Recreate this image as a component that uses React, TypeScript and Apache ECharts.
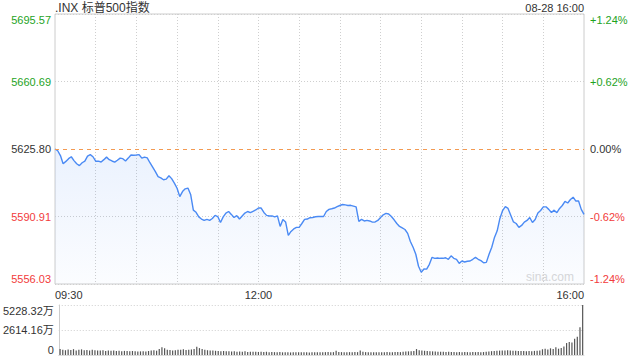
import React, { useEffect, useRef } from "react";
import * as echarts from "echarts";

const BASE = 5625.8;
const RANGE = 69.77;

const titleText = ".INX 标普500指数";
const dateText = "08-28 16:00";
const watermarkText = "sina.com";

const leftTickLabels = ["5556.03", "5590.91", "5625.80", "5660.69", "5695.57"];
const rightTickLabels = ["-1.24%", "-0.62%", "0.00%", "+0.62%", "+1.24%"];
const tickStyles = ["r", "r", "k", "g", "g"];
const volTickLabels = ["0", "2614.16万", "5228.32万"];
const shownTimeIdx = [0, 75, 195];

const prices = [
  5625.80, 5624.9, 5622.4, 5618.2, 5619.4, 5620.8, 5621.8, 5619.8, 5618.2, 5617.2,
  5618.7, 5619.5, 5622.1, 5622.9, 5621.8, 5619.5, 5619.5, 5619.1, 5620.3, 5621.6,
  5620.3, 5619.6, 5619.0, 5620.0, 5621.1, 5620.8, 5619.6, 5621.1, 5622.7, 5622.6,
  5622.7, 5622.9, 5621.1, 5621.6, 5621.2, 5618.7, 5616.4, 5614.1, 5611.5, 5610.9,
  5609.9, 5610.2, 5612.0, 5610.5, 5608.2, 5605.5, 5601.2, 5603.8, 5605.2, 5605.6,
  5602.3, 5594.2, 5593.1, 5590.7, 5589.6, 5588.9, 5589.4, 5588.9, 5589.9, 5591.5,
  5590.9, 5587.8, 5590.7, 5592.7, 5593.5, 5592.0, 5590.4, 5591.4, 5589.6, 5591.2,
  5592.7, 5593.5, 5592.9, 5593.6, 5594.3, 5595.3, 5595.3, 5593.0, 5591.5, 5591.2,
  5591.2, 5590.7, 5591.2, 5585.8, 5589.4, 5588.1, 5581.2, 5583.2, 5584.5, 5585.3,
  5585.3, 5587.3, 5589.4, 5589.6, 5590.3, 5590.4, 5590.8, 5590.9, 5590.9, 5590.9,
  5593.5, 5594.6, 5594.9, 5595.3, 5596.0, 5596.6, 5597.1, 5596.9, 5596.6, 5596.7,
  5596.3, 5595.9, 5588.4, 5589.4, 5588.6, 5588.9, 5588.6, 5588.0, 5588.1, 5588.9,
  5590.4, 5591.8, 5592.5, 5592.2, 5590.9, 5589.2, 5587.3, 5585.8, 5585.0, 5584.2,
  5582.2, 5578.0, 5575.0, 5571.4, 5565.2, 5562.1, 5563.8, 5563.7, 5566.2, 5569.8,
  5569.3, 5569.5, 5569.3, 5569.3, 5569.6, 5568.8, 5570.6, 5569.3, 5568.8, 5566.7,
  5567.9, 5567.4, 5567.8, 5567.9, 5568.8, 5569.8, 5568.8, 5568.1, 5567.0, 5567.2,
  5571.4, 5575.0, 5580.1, 5583.5, 5589.9, 5594.0, 5596.0, 5595.1, 5591.6, 5588.1,
  5587.3, 5585.3, 5586.3, 5588.0, 5588.9, 5590.4, 5587.8, 5589.4, 5592.7, 5594.0,
  5595.9, 5595.9, 5594.6, 5593.0, 5594.2, 5592.9, 5595.1, 5596.6, 5598.7, 5597.9,
  5599.7, 5600.9, 5598.9, 5598.9, 5594.6, 5592.0,
];

const volumes = [
  620, 540, 500, 580, 520, 610, 480, 540, 590, 500, 520, 470, 560, 500, 480,
  460, 500, 430, 470, 440, 480, 420, 450, 400, 430, 410, 380, 420, 390, 370,
  380, 400, 370, 420, 460, 500, 450, 620, 820, 700, 560, 520, 480, 500, 540,
  560, 600, 520, 560, 580, 620, 860, 720, 640, 560, 500, 480, 460, 440, 420,
  400, 420, 380, 400, 360, 380, 350, 370, 340, 380, 320, 350, 330, 340, 320,
  330, 310, 340, 300, 320, 300, 290, 310, 280, 300, 290, 270, 300, 280, 290,
  280, 300, 290, 270, 300, 280, 300, 290, 280, 300, 310, 290, 300, 450, 310,
  300, 290, 280, 300, 290, 310, 300, 480, 330, 300, 290, 280, 300, 290, 280,
  290, 300, 310, 300, 290, 310, 320, 300, 340, 360, 380, 400, 420, 620, 500,
  460, 440, 420, 400, 380, 360, 350, 340, 330, 320, 330, 310, 320, 300, 310,
  300, 320, 300, 290, 310, 300, 320, 300, 310, 330, 360, 400, 420, 440, 460,
  480, 460, 500, 470, 440, 450, 420, 430, 410, 400, 420, 400, 430, 450, 480,
  600, 650, 580, 700, 620, 820, 660, 720, 900, 1250, 1350, 1300, 1700, 1900, 2900, 5228.32,
];
const VOL_MAX = 5228.32;

const times: string[] = prices.map((_, i) => {
  const m = 9 * 60 + 30 + i * 2;
  const hh = String(Math.floor(m / 60)).padStart(2, "0");
  const mm = String(m % 60).padStart(2, "0");
  return `${hh}:${mm}`;
});

const GREEN = "#1ea31e";
const RED = "#f23b3b";
const DARK = "#333";
const GRIDC = "#cfcfcf";
const FONT = 'Arial, "Liberation Sans", "Noto Sans CJK SC", sans-serif';

export default function App() {
  const ref = useRef<HTMLDivElement>(null);
  useEffect(() => {
    document.body.style.margin = "0";
    if (!ref.current) return;
    const chart = echarts.init(ref.current, null, { renderer: "svg" });
    const rich = {
      g: { color: GREEN, fontSize: 11, fontFamily: FONT },
      r: { color: RED, fontSize: 11, fontFamily: FONT },
      k: { color: DARK, fontSize: 11, fontFamily: FONT },
    };
    const option: any = {
      animation: false,
      textStyle: { fontFamily: FONT },
      grid: [
        { left: 55, top: 14, width: 529, height: 270, show: true, borderColor: "#ccc", borderWidth: 1 },
        { left: 55, top: 305, width: 529, height: 50 },
      ],
      graphic: [
        { type: "text", x: 55, y: 8, style: { text: titleText, fill: DARK, fontSize: 12, fontFamily: FONT, verticalAlign: "middle", align: "left" } },
        { type: "text", x: 584, y: 8, style: { text: dateText, fill: DARK, fontSize: 11, fontFamily: FONT, verticalAlign: "middle", align: "right" } },
        { type: "text", x: 574, y: 277, z: 1, style: { text: watermarkText, fill: "#d8d8d8", fontSize: 12, fontFamily: FONT, verticalAlign: "middle", align: "right" } },
      ],
      xAxis: [
        {
          type: "category", gridIndex: 0, data: times, boundaryGap: false,
          axisLine: { show: false }, axisTick: { show: false },
          axisLabel: {
            interval: (i: number) => shownTimeIdx.includes(i),
            color: DARK, fontSize: 11, margin: 5,
            alignMinLabel: "left", alignMaxLabel: "right",
          },
          splitLine: {
            show: true,
            interval: (i: number) => i % 15 === 0 && i !== 0 && i !== 195,
            lineStyle: { color: GRIDC, type: [1, 2] },
          },
        },
        {
          type: "category", gridIndex: 1, data: times, boundaryGap: true,
          axisLine: { show: true, lineStyle: { color: "#ddd" } }, axisTick: { show: false },
          axisLabel: { show: false }, splitLine: { show: false },
        },
      ],
      yAxis: [
        {
          type: "value", gridIndex: 0, min: -RANGE, max: RANGE, interval: RANGE / 2,
          axisLine: { show: false }, axisTick: { show: false },
          axisLabel: {
            margin: 4,
            formatter: (_v: number, idx: number) => `{${tickStyles[idx]}|${leftTickLabels[idx]}}`,
            rich,
            verticalAlignMinLabel: "bottom", verticalAlignMaxLabel: "top",
          },
          splitLine: { show: true, lineStyle: { color: [GRIDC, GRIDC, "rgba(0,0,0,0)", GRIDC, GRIDC], type: [1, 2] } },
        },
        {
          type: "value", gridIndex: 0, position: "right", min: -RANGE, max: RANGE, interval: RANGE / 2,
          axisLine: { show: false }, axisTick: { show: false },
          axisLabel: {
            margin: 6,
            formatter: (_v: number, idx: number) => `{${tickStyles[idx]}|${rightTickLabels[idx]}}`,
            rich,
            verticalAlignMinLabel: "bottom", verticalAlignMaxLabel: "top",
          },
          splitLine: { show: false },
        },
        {
          type: "value", gridIndex: 1, min: 0, max: VOL_MAX, interval: VOL_MAX / 2,
          axisLine: { show: true, lineStyle: { color: "#ccc" } }, axisTick: { show: false },
          axisLabel: {
            margin: 5, color: DARK, fontSize: 11,
            formatter: (_v: number, idx: number) => volTickLabels[idx],
            verticalAlignMinLabel: "bottom", verticalAlignMaxLabel: "top",
          },
          splitLine: { show: true, lineStyle: { color: GRIDC, type: [1, 2] } },
        },
      ],
      series: [
        {
          type: "line", xAxisIndex: 0, yAxisIndex: 0,
          data: prices.map((p) => +(p - BASE).toFixed(2)),
          showSymbol: false, symbol: "none", smooth: false,
          lineStyle: { color: "#4a8af4", width: 1.4 },
          areaStyle: {
            origin: "start",
            color: new echarts.graphic.LinearGradient(0, 0, 0, 1, [
              { offset: 0, color: "rgba(74,138,244,0.16)" },
              { offset: 1, color: "rgba(74,138,244,0.03)" },
            ]),
          },
          markLine: {
            silent: true, symbol: ["none", "none"], label: { show: false },
            lineStyle: { color: "#f39a52", type: [4, 4], width: 1, opacity: 1 },
            data: [{ yAxis: 0 }],
          },
          z: 3,
        },
        {
          type: "bar", xAxisIndex: 1, yAxisIndex: 2,
          data: volumes, barWidth: 1.2,
          itemStyle: { color: "#555" },
        },
      ],
    };
    chart.setOption(option);
    return () => chart.dispose();
  }, []);
  return <div ref={ref} style={{ position: "absolute", left: 0, top: 0, width: 640, height: 360 }} />;
}
